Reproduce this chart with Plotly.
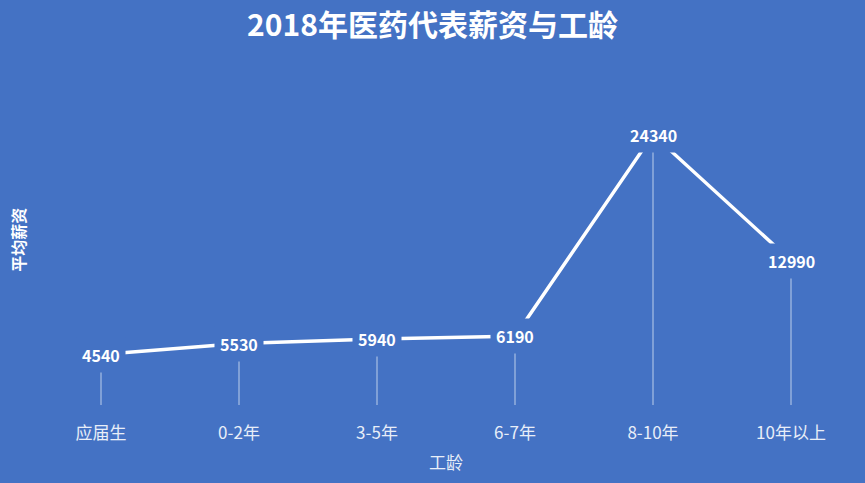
import plotly.graph_objects as go

# 2018 pharma rep average salary by years of service

categories = ["应届生", "0-2年", "3-5年", "6-7年", "8-10年", "10年以上"]
salary = [4540, 5530, 5940, 6190, 24340, 12990]

bg = "#4472C4"
font_cjk = "Noto Sans CJK SC"

fig = go.Figure()

# thin drop lines from each point down to the axis
fig.add_trace(go.Scatter(
    x=categories, y=salary,
    mode="markers",
    marker=dict(size=1, color="rgba(0,0,0,0)"),
    error_y=dict(type="data", symmetric=False, array=[0] * len(salary),
                 arrayminus=salary, width=0, thickness=1,
                 color="rgba(255,255,255,0.65)"),
    hoverinfo="skip", showlegend=False,
))

# main line
fig.add_trace(go.Scatter(
    x=categories, y=salary,
    mode="lines",
    line=dict(color="white", width=3.5),
    showlegend=False,
))

# value labels with background box so the line stops short of them
for c, v in zip(categories, salary):
    fig.add_annotation(
        x=c, y=v, text="<b>%d</b>" % v, showarrow=False,
        font=dict(family=font_cjk, size=16, color="white"),
        bgcolor=bg, borderpad=5,
    )

# y axis title
fig.add_annotation(
    xref="paper", yref="paper", x=-0.034, y=0.55,
    text="<b>平均薪资</b>", textangle=-90, showarrow=False,
    font=dict(family=font_cjk, size=16, color="white"),
)

fig.update_layout(
    width=865, height=483,
    paper_bgcolor=bg, plot_bgcolor=bg,
    margin=dict(l=32, r=5, t=105, b=78),
    title=dict(text="<b>2018年医药代表薪资与工龄</b>", x=0.5, y=0.948,
               xanchor="center", yanchor="middle",
               font=dict(family=font_cjk, size=30, color="white")),
    xaxis=dict(
        type="category", range=[-0.5, 5.5],
        showgrid=False, zeroline=False, showline=False, ticks="",
        ticklabelstandoff=16,
        tickfont=dict(family=font_cjk, size=17, color="#E8EEF8"),
        title=dict(text="工龄", standoff=14,
                   font=dict(family=font_cjk, size=17, color="#E8EEF8")),
    ),
    yaxis=dict(
        range=[0, 27000], showgrid=False, zeroline=False, showline=False,
        showticklabels=False, ticks="",
    ),
)

fig.write_html("out.html", config={"displayModeBar": False},
               post_script="document.body.style.margin='0';")
